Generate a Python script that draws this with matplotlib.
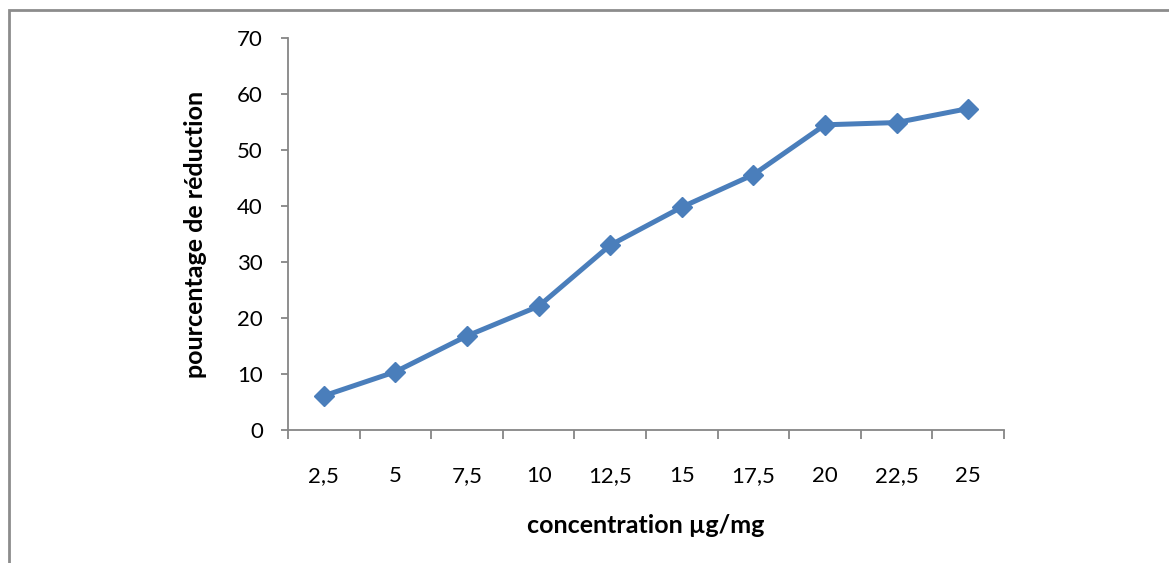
import matplotlib.pyplot as plt
from matplotlib.patches import Rectangle
import numpy as np

concentrations = ["2,5", "5", "7,5", "10", "12,5", "15", "17,5", "20", "22,5", "25"]
reduction = [6.1, 10.4, 16.8, 22.1, 33.0, 39.8, 45.6, 54.5, 54.9, 57.4]

plt.rcParams['font.family'] = ['Lato', 'DejaVu Sans']

W, H = 1169, 563
fig = plt.figure(figsize=(W / 100, H / 100), dpi=100)

# outer chart frame, cut off on the right and bottom like the screenshot
fig.patches.append(Rectangle((9 / W, -0.1), 1.2, 1 - 10 / H + 0.1, transform=fig.transFigure,
                             fill=False, edgecolor='#8c8c8c', linewidth=2))

ax = fig.add_axes([288 / W, (H - 430) / H, (1004 - 288) / W, (430 - 38) / H])

x = np.arange(len(concentrations)) + 0.5
ax.plot(x, reduction, color='#4a7ebb', linewidth=3.6, marker='D', markersize=10.5,
        markeredgecolor='#4a7ebb', clip_on=False, zorder=3)

ax.set_xlim(0, len(concentrations))
ax.set_ylim(0, 70)

ax.set_xticks(np.arange(len(concentrations) + 1))
ax.set_xticklabels([])
ax.set_xticks(x, minor=True)
ax.set_xticklabels(concentrations, minor=True)
ax.tick_params(axis='x', which='major', direction='out', length=6.5, width=1.3, color='#868686')
ax.tick_params(axis='x', which='minor', length=0, pad=26, labelsize=16)

ax.set_yticks(np.arange(0, 71, 10))
ax.tick_params(axis='y', direction='out', length=5, width=1.3, color='#868686', labelsize=16, pad=13)

for side in ['top', 'right']:
    ax.spines[side].set_visible(False)
for side in ['left', 'bottom']:
    ax.spines[side].set_color('#868686')
    ax.spines[side].set_linewidth(1.3)

ax.set_xlabel("concentration µg/mg", fontsize=18, fontweight='bold', labelpad=20)
ax.set_ylabel("pourcentage de réduction", fontsize=18, fontweight='bold', labelpad=22)

fig.savefig("out.png", dpi=100)
